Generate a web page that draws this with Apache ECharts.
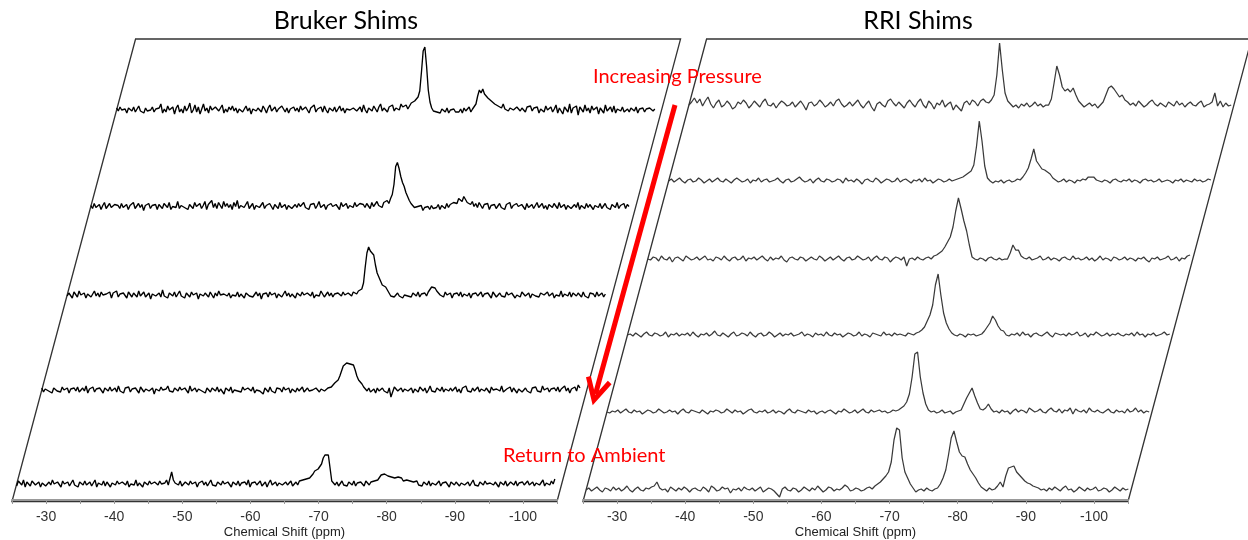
<!DOCTYPE html>
<html>
<head>
<meta charset="utf-8">
<script src="https://cdn.jsdelivr.net/npm/echarts@6/dist/echarts.min.js"></script>
<style>
  html, body { margin: 0; background: #fff; }
  #chart { width: 1248px; height: 540px; }
</style>
</head>
<body>
<div id="chart"></div>
<script>
// chemical shift sampling of the stacked spectra
const ppmStart = -25
const brukerStep = 0.25
const rriStep = 0.4
const axisLabels = [-30, -40, -50, -60, -70, -80, -90, -100]

// Bruker shims, top (first pressure) to bottom (return to ambient)
const bruker1 = [
  2,-1,3,0,-2,1,-3,2,0,-1,3,-2,1,4,-1,0,-3,2,-1,1,
  0,3,-2,1,-1,2,6,-3,1,-2,4,0,-1,3,-4,2,5,-2,1,-3,
  4,-1,2,7,-3,0,5,-2,3,-4,1,6,-1,2,-3,4,0,-2,3,1,
  -1,2,5,-3,1,-2,3,0,4,-1,2,-3,1,3,-2,0,4,-1,2,-4,
  1,3,-1,2,0,-2,4,1,-3,2,5,-1,0,3,-2,1,-1,4,6,-2,
  2,-3,1,0,3,-1,2,-2,4,0,-1,3,1,-3,2,0,5,-2,1,-1,
  3,-2,4,0,-3,2,1,-1,3,-2,0,4,-1,2,-3,1,3,0,-2,2,
  4,-1,1,3,-2,5,0,-3,2,1,-1,4,2,-2,3,6,-1,2,4,-2,
  3,1,5,-1,2,4,0,6,3,2,5,1,4,7,5,9,11,13,19,38,
  59,63,44,20,8,2,-1,1,-2,0,-3,1,-1,-2,2,-3,0,-1,1,-2,
  0,-2,1,-3,2,-1,0,3,-2,1,2,6,14,20,17,21,16,18,12,13,
  9,10,6,8,4,5,2,6,1,3,-1,2,4,0,-2,3,1,-1,2,0,
  -2,3,1,4,-1,2,0,3,-3,1,2,-2,4,0,-1,3,-2,1,5,-3,
  2,0,-4,3,1,-2,6,-3,2,0,4,-5,3,1,-2,5,-1,2,-3,4,
  0,-2,3,-4,2,1,-3,5,-1,0,3,-2,4,-3,1,2,-1,3,-2,0,
  1,-2,2,0,-1,3,-3,1,0,2,-2,1,-1,2,0,-1,1
]
const bruker2 = [
  1,-2,3,-1,0,2,-3,1,4,-2,0,3,-1,-3,2,0,1,-2,3,-1,
  0,2,-3,1,-1,4,-2,0,3,-1,2,-4,1,0,3,-2,1,-1,2,-3,
  2,0,-2,3,1,-1,4,-3,0,2,-1,5,-2,1,3,-1,0,-3,2,1,
  -2,4,0,-1,3,-2,1,5,-3,2,0,6,-1,3,-2,4,1,-2,5,0,
  3,-1,2,-3,4,0,6,-2,1,3,-1,2,5,-2,0,3,-3,1,2,-1,
  0,4,-2,1,-1,3,0,-3,2,1,-2,4,-1,0,2,-3,1,3,-2,0,
  2,-1,3,0,-2,4,-1,1,-3,2,0,3,-2,1,5,-1,0,2,-3,1,
  -1,3,0,-2,2,1,-3,4,0,-1,3,-2,1,2,-1,4,0,-2,3,1,
  2,-1,3,1,-2,4,0,2,5,1,3,-1,4,2,6,3,8,12,22,40,
  44,38,30,24,20,14,10,6,3,1,-1,-3,0,-2,1,-4,-1,-2,0,-3,
  1,-2,0,-1,2,-3,1,0,-2,3,-1,2,1,4,6,3,8,9,5,10,
  7,4,6,2,5,0,3,-1,4,1,-2,2,0,3,-3,1,-1,2,-2,0,
  3,-1,1,-3,2,0,4,-2,1,-1,3,0,-2,2,1,-3,3,-1,0,2,
  -2,1,4,-1,0,3,-2,1,-3,2,0,-1,3,1,-2,4,-1,0,2,-3,
  1,3,-2,0,2,-1,4,-3,1,0,-2,3,-1,2,0,-3,1,2,-1,3,
  -2,0,3,-1,1,-3,2,0,-1,4,-2,1,0,3,-2,2,0
]
const bruker3 = [
  -1,2,0,-3,3,1,-2,4,0,-1,2,-3,1,3,-2,0,4,-1,2,-2,
  3,0,-2,1,-1,3,-3,2,0,4,-2,1,-1,2,0,-3,3,1,-2,2,
  0,-2,4,-1,1,3,-2,0,2,-4,1,3,-1,0,2,-2,5,-1,1,-3,
  2,0,-1,3,-2,1,4,-1,0,-3,2,1,-2,3,0,-1,2,-4,1,3,
  -1,2,0,-2,3,1,-3,2,-1,4,0,-2,1,3,-1,2,-3,0,2,-1,
  3,-2,1,0,-3,2,4,-1,1,-2,0,3,-1,2,-4,1,0,2,-2,3,
  0,-1,2,-3,1,3,-2,0,4,-1,2,-2,1,0,-3,2,1,-1,3,0,
  -2,2,1,-1,3,-3,0,2,-1,4,1,-2,0,3,-1,2,-2,1,0,2,
  1,-1,3,0,-2,2,1,-1,3,2,1,4,3,6,12,28,42,48,44,46,
  40,30,22,18,14,10,9,8,5,2,-1,1,-2,0,2,-1,1,-3,0,2,
  -1,1,-2,2,0,-1,3,-2,1,0,2,-1,3,5,8,6,7,4,2,0,
  1,-2,3,0,-1,2,-3,1,0,2,-1,3,-2,1,0,-1,2,-3,1,0,
  2,-1,0,3,-2,1,-1,2,0,-3,3,1,-2,0,2,-1,1,-2,3,0,
  -1,2,1,-3,0,2,-2,3,1,-1,0,2,-3,1,3,-1,0,-2,2,1,
  0,-2,3,-1,1,2,-3,0,2,-1,4,-2,1,0,-1,3,-2,2,0,-1,
  2,0,-2,3,-1,1,-3,2,0,1,-2,3,-1,0,2,-2,1
]
const bruker4 = [
  2,-2,1,3,-1,0,-3,2,4,-1,1,-2,3,0,-1,2,-3,1,0,2,
  -1,3,-2,0,2,-1,4,-3,1,0,3,-2,1,-1,2,0,-3,2,1,-1,
  3,-1,0,2,-2,4,-1,1,-3,2,0,3,-2,1,-1,2,0,-3,3,1,
  -2,1,3,-1,0,2,-4,1,2,-1,3,0,-2,1,4,-1,0,-2,2,1,
  -1,3,0,-2,2,1,-3,4,-1,0,2,-2,1,3,-1,0,-3,2,1,-2,
  2,0,-1,3,-2,1,0,-4,2,1,-1,3,-3,0,2,-1,1,-2,3,0,
  -2,2,1,-1,3,-3,0,2,-1,1,-4,2,0,-2,3,-1,1,-3,2,0,
  1,-2,3,0,-1,2,-3,1,0,-2,2,-1,1,3,-2,0,2,-1,1,0,
  -1,2,0,-2,1,3,-1,1,2,0,3,5,7,8,10,14,19,24,26,27,
  28,26,27,25,20,14,10,9,6,3,1,-1,2,-2,0,1,-3,2,-1,0,
  2,-1,1,-3,2,-7,-2,3,1,-1,0,2,-2,1,3,-1,0,2,-3,1,
  0,-2,3,1,-1,2,-3,0,4,-1,1,-2,2,0,-1,3,-2,1,0,-1,
  2,-1,0,3,-2,1,-3,2,0,4,-1,1,-2,2,-1,0,3,-2,1,0,
  -1,2,1,-3,3,0,-2,1,2,-1,4,-2,0,1,-1,3,-2,2,0,-3,
  1,3,-2,0,2,-1,1,-3,2,0,3,-1,1,-2,4,0,-1,2,-2,1,
  0,2,-1,3,-2,1,0,4,-1,2,-3,1,0,3,-1,5,2
]
const bruker5 = [
  -2,3,1,-1,4,-3,2,0,-2,3,1,-1,0,2,-3,1,3,-2,0,2,
  -1,4,0,-2,2,1,-3,3,0,-1,2,-2,1,4,-1,0,-3,2,1,-1,
  3,-1,0,2,-2,1,4,-3,1,0,-1,3,-2,2,0,-3,1,2,-1,3,
  0,-2,2,1,-1,3,-3,0,2,-1,4,-2,1,0,-3,2,1,-1,3,0,
  -2,2,1,-1,3,0,-2,1,4,-1,0,12,4,1,2,-1,3,-2,0,2,
  1,-1,3,0,-2,2,-3,1,0,3,-1,2,-2,1,4,-1,0,-2,2,1,
  -1,3,0,-2,2,1,-3,2,0,-1,3,-2,1,0,2,-1,4,-3,1,0,
  2,-1,1,3,-2,0,2,-3,1,4,-1,0,2,-2,1,3,-1,0,2,-1,
  1,3,-2,0,2,-1,3,1,4,2,5,3,6,7,10,13,12,15,17,20,
  26,29,28,29,16,3,1,-1,2,-2,0,3,-1,1,-2,2,0,-1,3,-2,
  1,-1,2,0,-2,3,1,-1,2,0,3,1,4,6,9,11,10,11,8,6,
  7,5,6,4,7,5,6,3,5,4,2,3,1,2,0,3,-1,1,-2,2,
  0,-1,3,-2,1,2,-1,0,3,-2,1,-1,2,0,-3,2,1,-1,2,0,
  -2,1,3,-1,0,2,-2,1,4,-1,0,-2,2,1,-1,3,0,-2,1,2,
  -1,2,0,-3,2,1,-1,3,-2,0,2,1,-1,3,-2,1,0,2,-1,1,
  3,-1,0,2,-2,1,3,-1,0,4,-2,1,2,-1,3,0,5
]

// RRI shims, same order
const rri1 = [
  0,3,7,2,6,-1,4,8,1,-3,2,5,-2,0,4,1,-4,-2,3,1,
  5,2,-3,0,4,1,-2,3,6,0,-1,2,-3,1,4,2,-1,0,3,-2,
  1,4,0,-5,2,3,-1,1,5,2,-2,0,3,-1,4,6,1,-2,0,3,
  -1,2,5,0,-3,1,4,-2,-6,1,3,0,-2,4,6,2,-1,3,0,-3,
  2,5,1,-2,3,6,0,-3,4,1,-4,2,0,5,-2,1,3,-5,0,-3,
  -6,2,4,0,5,3,-1,4,6,3,2,5,10,30,62,35,12,4,1,-2,
  0,-3,1,-1,2,-2,0,3,-1,1,-2,0,0,6,22,39,30,18,14,16,
  13,17,10,4,1,-2,0,2,-1,1,-3,0,3,10,17,19,16,12,8,10,
  5,3,0,2,-1,4,1,-2,0,3,5,1,-1,2,0,-2,3,1,-1,4,
  0,2,-2,1,3,0,-1,2,4,-2,0,1,3,12,-1,4,-2,2,-1,0
]
const rri2 = [
  0,2,-1,1,3,0,-2,1,2,-1,0,3,1,-2,0,2,-1,1,3,0,
  -1,2,0,-2,1,3,1,-1,0,2,-2,1,0,3,-1,1,2,-1,0,1,
  3,0,-2,1,2,-1,0,2,4,1,-1,0,2,-2,1,3,0,-1,2,1,
  -1,0,2,1,-2,3,0,1,-1,2,0,-3,1,2,0,-1,3,1,-2,0,
  2,1,-1,0,3,-1,1,2,0,-2,1,0,2,-1,3,0,1,-2,0,2,
  1,-1,0,2,0,1,2,3,4,6,8,10,16,35,60,40,15,3,0,-2,
  0,-1,1,-2,0,1,-1,0,2,1,4,8,13,22,32,20,16,12,11,9,
  7,3,1,-1,0,2,-1,1,0,-2,1,0,2,1,4,4,4,1,0,-1,
  1,0,-2,1,2,0,-1,1,0,2,-1,1,0,-2,1,2,0,1,-1,0,
  2,-1,0,1,0,-2,1,0,2,-1,1,0,-1,2,0,1,-1,0,2,1
]
const rri3 = [
  0,-1,2,1,-2,3,0,-1,2,-3,1,2,0,-2,3,1,-1,0,2,-1,
  1,3,-1,0,-2,2,1,-1,3,0,-2,1,2,-1,0,3,-2,1,0,2,
  -1,1,3,0,-2,2,-1,1,0,3,-1,-3,1,2,0,-1,2,1,-2,0,
  2,0,-1,3,1,-2,0,2,-1,1,3,0,-2,1,2,-1,0,3,1,-1,
  0,2,-2,1,3,0,-1,2,1,-3,0,2,1,-1,2,-7,0,1,-1,2,
  0,-1,1,2,0,3,4,6,8,12,17,22,32,48,61,50,38,28,14,2,
  0,-1,1,0,-2,1,2,0,-1,1,-1,0,0,6,14,9,9,3,1,0,
  2,-1,0,1,3,-1,0,2,-1,1,0,-2,1,2,0,-1,3,0,1,-1,
  0,2,-1,1,-2,0,3,-1,1,0,-2,2,1,-1,0,2,-1,1,0,-2,
  1,0,2,-1,-3,1,0,2,-1,0,1,3,-1,0,2,-2,1,0,3,4
]
const rri4 = [
  0,1,-1,2,0,-2,1,3,0,-1,2,1,-1,0,3,-2,1,0,2,-1,
  1,0,2,-1,3,0,-2,1,0,2,-1,1,4,0,-1,2,0,-2,1,3,
  -1,0,2,1,-1,3,0,-2,1,2,-1,0,3,1,-2,0,2,-1,1,0,
  2,-1,0,1,3,-1,1,0,-2,2,0,1,-1,3,0,-1,2,0,1,-2,
  0,2,1,-1,0,3,-1,1,0,-2,2,1,0,-1,3,0,1,-1,2,0,
  1,0,-1,2,1,0,2,3,5,8,14,20,30,50,61,40,22,12,6,2,
  0,-1,1,0,-2,1,0,1,-1,0,1,4,8,12,19,15,9,5,4,0,
  -1,1,0,2,-1,3,0,1,-2,1,2,0,-1,1,3,0,-2,2,1,0,
  1,-1,2,0,1,3,-1,0,2,-2,1,0,3,1,-1,0,2,-1,1,0,
  2,0,-1,1,0,2,-1,3,0,1,-2,1,0,2,-1,0,1,3,0,1
]
const rri5 = [
  0,-1,1,0,2,-1,1,3,0,-1,2,0,1,-2,0,2,1,-1,0,3,
  1,-1,0,2,0,1,-2,1,3,0,-1,2,1,0,-1,2,0,-2,1,0,
  2,1,-1,0,3,1,-1,2,0,1,-2,0,2,3,0,-1,1,0,2,-1,
  0,2,-1,1,0,-2,1,3,0,-1,2,1,0,-1,2,0,1,-2,0,1,
  -1,1,2,0,-2,1,0,3,1,-1,0,2,-1,1,3,0,-1,2,0,1,
  2,0,1,-1,0,2,1,2,4,6,10,18,35,58,60,35,19,8,2,0,
  1,-1,0,2,-1,0,1,-2,0,1,2,8,14,19,24,16,9,3,2,4,
  8,3,0,1,-1,2,0,1,-2,1,3,0,2,1,-1,4,2,0,1,3,
  0,-1,2,4,1,0,3,-1,2,1,4,-2,3,1,0,2,-1,4,1,0,
  2,0,-1,1,3,0,-1,2,0,1,-1,3,0,1,4,0,2,-1,1,0
]
const rri6 = [
  0,2,-1,1,3,0,-2,2,1,-1,3,0,2,-1,1,4,0,-2,1,3,
  0,-1,2,1,3,4,8,2,0,1,-2,3,1,-1,2,0,3,1,-2,1,
  2,0,-1,3,1,-2,4,2,-1,0,3,1,2,-3,1,0,2,-1,3,1,
  0,2,-1,1,3,-2,0,2,1,-1,-4,-7,1,3,0,-1,2,1,-2,0,
  3,1,-1,2,0,4,1,-2,0,3,2,-1,1,0,2,5,3,-1,0,2,
  1,-1,0,2,3,1,4,6,8,11,14,18,28,50,62,60,32,18,12,6,
  2,-2,0,1,-1,2,0,-1,1,2,6,12,20,35,52,59,48,38,34,33,
  26,20,16,12,7,3,1,-1,2,0,1,4,8,3,14,22,23,24,18,15,
  12,9,7,6,4,3,2,0,1,-1,2,0,3,1,-1,2,4,0,1,-2,
  0,3,1,-1,2,0,1,3,-1,0,2,1,-2,0,3,1,-1,2,0,1
]

// layout of the skewed stack (px)
const frameBottom = 501.5
const frameTop = 39
const skew = 123.7 / 463
const panelWidth = 545
const panels = [
  { x: 12, step: brukerStep, traces: [bruker1, bruker2, bruker3, bruker4, bruker5],
    base: [110, 206.5, 295, 390, 484], color: '#000', width: 1.35 },
  { x: 583, step: rriStep, traces: [rri1, rri2, rri3, rri4, rri5, rri6],
    base: [105, 181, 259, 335, 412, 490], color: '#3a3a3a', width: 1.25 }
]

const toPairs = (vals, step) => vals.map((v, i) => [ppmStart - i * step, v])

const grid = [], xAxis = [], yAxis = [], series = [], graphic = []

panels.forEach(p => {
  p.traces.forEach((vals, k) => {
    const idx = grid.length
    const base = p.base[k]
    grid.push({ left: p.x + (frameBottom - base) * skew, top: base - 80, width: panelWidth, height: 100 })
    xAxis.push({ gridIndex: idx, type: 'value', min: -105, max: -25, inverse: true, show: false })
    yAxis.push({ gridIndex: idx, type: 'value', min: -20, max: 80, show: false })
    series.push({
      type: 'line', xAxisIndex: idx, yAxisIndex: idx, data: toPairs(vals, p.step),
      showSymbol: false, silent: true, lineStyle: { color: p.color, width: p.width }
    })
  })
  // visible chemical shift axis under the panel
  const idx = grid.length
  grid.push({ left: p.x, top: frameBottom + 2 - 100, width: panelWidth, height: 100 })
  xAxis.push({
    gridIndex: idx, type: 'value', min: -105, max: -25, interval: 5, inverse: true,
    name: 'Chemical Shift (ppm)', nameLocation: 'middle', nameGap: 26,
    nameTextStyle: { fontFamily: 'Liberation Sans', fontSize: 13, color: '#222' },
    axisLine: { lineStyle: { color: '#999', width: 2 } },
    axisTick: { length: 4, lineStyle: { color: '#999' } },
    splitLine: { show: false },
    axisLabel: {
      margin: 10, fontFamily: 'Liberation Sans', fontSize: 14, color: '#333',
      formatter: v => axisLabels.includes(v) ? String(v) : ''
    }
  })
  yAxis.push({ gridIndex: idx, type: 'value', show: false })

  // parallelogram frame
  const dx = (frameBottom - frameTop) * skew
  graphic.push({
    type: 'polygon', silent: true,
    shape: { points: [[p.x, frameBottom], [p.x + dx, frameTop], [p.x + dx + panelWidth, frameTop], [p.x + panelWidth, frameBottom]] },
    style: { fill: 'none', stroke: '#333', lineWidth: 1.3 }
  })
})

graphic.push(
  { type: 'text', x: 346, y: 21, style: { text: 'Bruker Shims', font: '25px Lato', fill: '#000', textAlign: 'center', textVerticalAlign: 'middle' } },
  { type: 'text', x: 918, y: 21, style: { text: 'RRI Shims', font: '25px Lato', fill: '#000', textAlign: 'center', textVerticalAlign: 'middle' } },
  { type: 'text', x: 593, y: 77, style: { text: 'Increasing Pressure', font: '20px Lato', fill: '#ff0000', textAlign: 'left', textVerticalAlign: 'middle' } },
  { type: 'text', x: 503, y: 456, style: { text: 'Return to Ambient', font: '20px Lato', fill: '#ff0000', textAlign: 'left', textVerticalAlign: 'middle' } },
  { type: 'line', shape: { x1: 675, y1: 105, x2: 595.5, y2: 394 }, style: { stroke: '#ff0000', lineWidth: 5 } },
  { type: 'polyline', shape: { points: [[588.4, 376.7], [594, 400], [609.7, 382.5]] }, style: { stroke: '#ff0000', lineWidth: 5, fill: 'none', lineJoin: 'miter' } }
)

const chart = echarts.init(document.getElementById('chart'))
chart.setOption({
  animation: false,
  backgroundColor: '#fff',
  grid, xAxis, yAxis, series, graphic
})
</script>
</body>
</html>
